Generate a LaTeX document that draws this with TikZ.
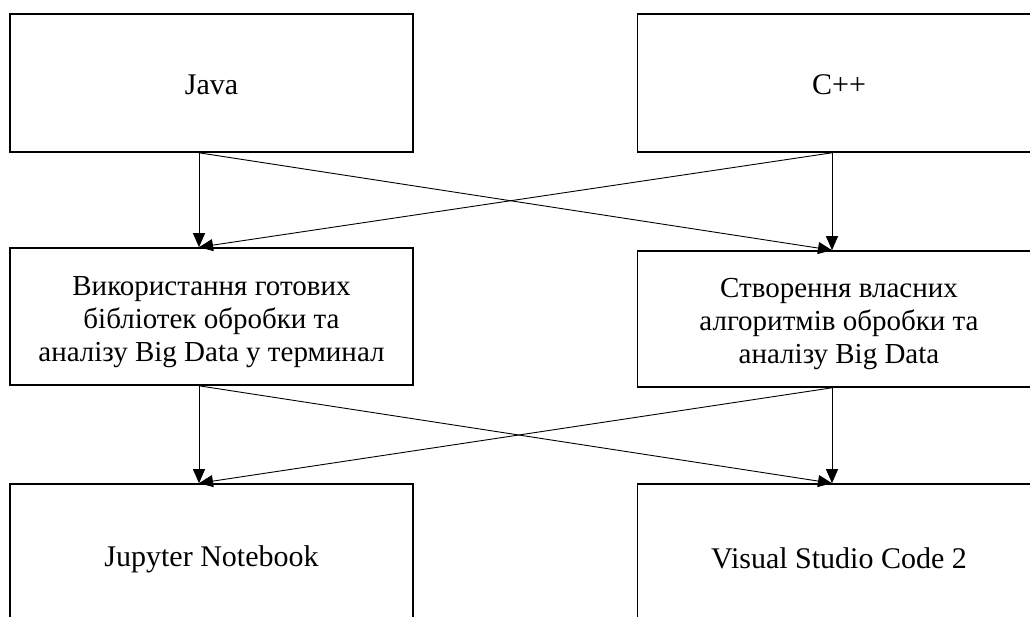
\documentclass[tikz,border=0pt]{standalone}
\usepackage{fontspec}
\setmainfont{Liberation Serif}
\usetikzlibrary{arrows.meta}
\tikzset{
  box/.style={draw, line width=1.6pt, rectangle, minimum width=403pt, inner sep=0pt},
  boxtext/.style={align=center, inner sep=0pt, font=\fontsize{29}{33}\selectfont},
  bigtext/.style={boxtext, font=\fontsize{30}{33}\selectfont},
  conn/.style={line width=0.9pt, -{Triangle[length=14pt,width=12pt]}}
}
\begin{document}
\begin{tikzpicture}[x=1pt,y=-1pt]
\useasboundingbox (0,0) rectangle (1030,617);
\clip (0,0) rectangle (1030,617);
\node[box, minimum height=138pt, label={[bigtext, name=javat, yshift=-2pt]center:Java}] (java) at (211.5,83) {};
\node[box, minimum height=138pt, label={[bigtext, name=cppt, yshift=-2pt]center:C++}] (cpp) at (839,83) {};
\node[box, minimum height=137pt, label={[boxtext, name=libt, yshift=-6pt]center:Використання готових\\бібліотек обробки та\\аналізу Big Data у терминал}] (lib) at (211.5,316.5) {};
\node[box, minimum height=136pt, label={[boxtext, name=ownt, yshift=-5pt]center:Створення власних\\алгоритмів обробки та\\аналізу Big Data}] (own) at (839,319) {};
\node[box, minimum height=140pt, label={[bigtext, name=jupt, yshift=-5pt]center:Jupyter Notebook}] (jup) at (211.5,554) {};
\node[box, minimum height=140pt, label={[bigtext, name=vsct, yshift=-4pt]center:Visual Studio Code 2}] (vsc) at (839,554) {};
\draw[conn] ([xshift=-12.5pt]java.south) -- ([xshift=-12.5pt]lib.north);
\draw[conn] ([xshift=-12.5pt]java.south) -- ([xshift=-7pt]own.north);
\draw[conn] ([xshift=-7pt]cpp.south) -- ([xshift=-7pt]own.north);
\draw[conn] ([xshift=-7pt]cpp.south) -- ([xshift=-12.5pt]lib.north);
\draw[conn] ([xshift=-12.5pt]lib.south) -- ([xshift=-12.5pt]jup.north);
\draw[conn] ([xshift=-12.5pt]lib.south) -- ([xshift=-7pt]vsc.north);
\draw[conn] ([xshift=-7pt]own.south) -- ([xshift=-7pt]vsc.north);
\draw[conn] ([xshift=-7pt]own.south) -- ([xshift=-12.5pt]jup.north);
\end{tikzpicture}
\end{document}
